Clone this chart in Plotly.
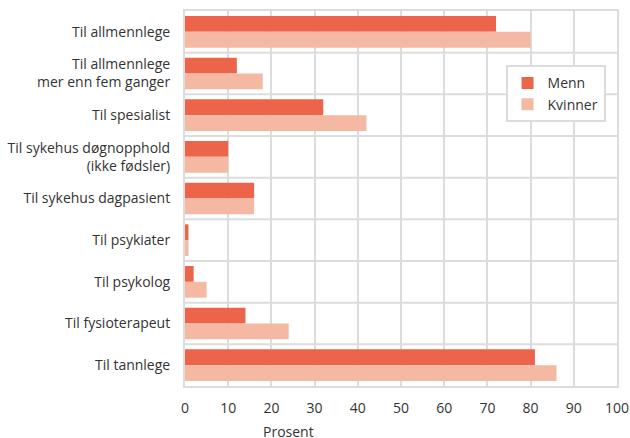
import plotly.graph_objects as go

categories = [
    "Til allmennlege",
    "Til allmennlege<br>mer enn fem ganger",
    "Til spesialist",
    "Til sykehus døgnopphold<br>(ikke fødsler)",
    "Til sykehus dagpasient",
    "Til psykiater",
    "Til psykolog",
    "Til fysioterapeut",
    "Til tannlege",
]
menn = [72, 12, 32, 10, 16, 0.8, 2, 14, 81]
kvinner = [80, 18, 42, 10, 16, 0.8, 5, 24, 86]
x_ticks = [0, 10, 20, 30, 40, 50, 60, 70, 80, 90, 100]

fig = go.Figure()
fig.add_trace(go.Bar(y=categories, x=menn, name="Menn", orientation="h",
                     marker=dict(color="#EC654B", line=dict(width=0))))
fig.add_trace(go.Bar(y=categories, x=kvinner, name="Kvinner", orientation="h",
                     marker=dict(color="#F5B8A2", line=dict(width=0))))

grid = "#dcdcdc"
fig.update_layout(
    width=630, height=438,
    margin=dict(l=185, r=13, t=11, b=52),
    barmode="group", bargap=0.24, bargroupgap=0,
    plot_bgcolor="white", paper_bgcolor="white",
    font=dict(family="Open Sans", size=14, color="#333333"),
    legend=dict(x=0.742, y=0.855, xanchor="left", yanchor="top",
                bgcolor="white", bordercolor=grid, borderwidth=2,
                font=dict(size=14), itemwidth=30, tracegroupgap=0),
    xaxis=dict(range=[0, 100], tickvals=x_ticks, showgrid=True, gridcolor=grid,
               gridwidth=2, showline=True, linecolor=grid, linewidth=2, mirror=True,
               zeroline=False, ticks="", tickfont=dict(size=14),
               ticklabelstandoff=8, automargin=False),
    yaxis=dict(autorange="reversed", showgrid=False, showline=True, linecolor=grid,
               linewidth=2, mirror=True, ticks="", ticklabelstandoff=10,
               tickfont=dict(size=14), automargin=False),
)

# horizontal separators between the categories
shapes = []
for i in range(1, len(categories)):
    shapes.append(dict(type="line", xref="paper", yref="y", x0=0, x1=1,
                       y0=i - 0.5, y1=i - 0.5, line=dict(color=grid, width=2),
                       layer="below"))
fig.update_layout(shapes=shapes)
fig.add_annotation(text="Prosent", xref="paper", yref="paper", x=(288 - 185) / 432,
                   y=-0.122, xanchor="center", yanchor="middle", showarrow=False,
                   font=dict(size=14))

fig.write_html("out.html")
